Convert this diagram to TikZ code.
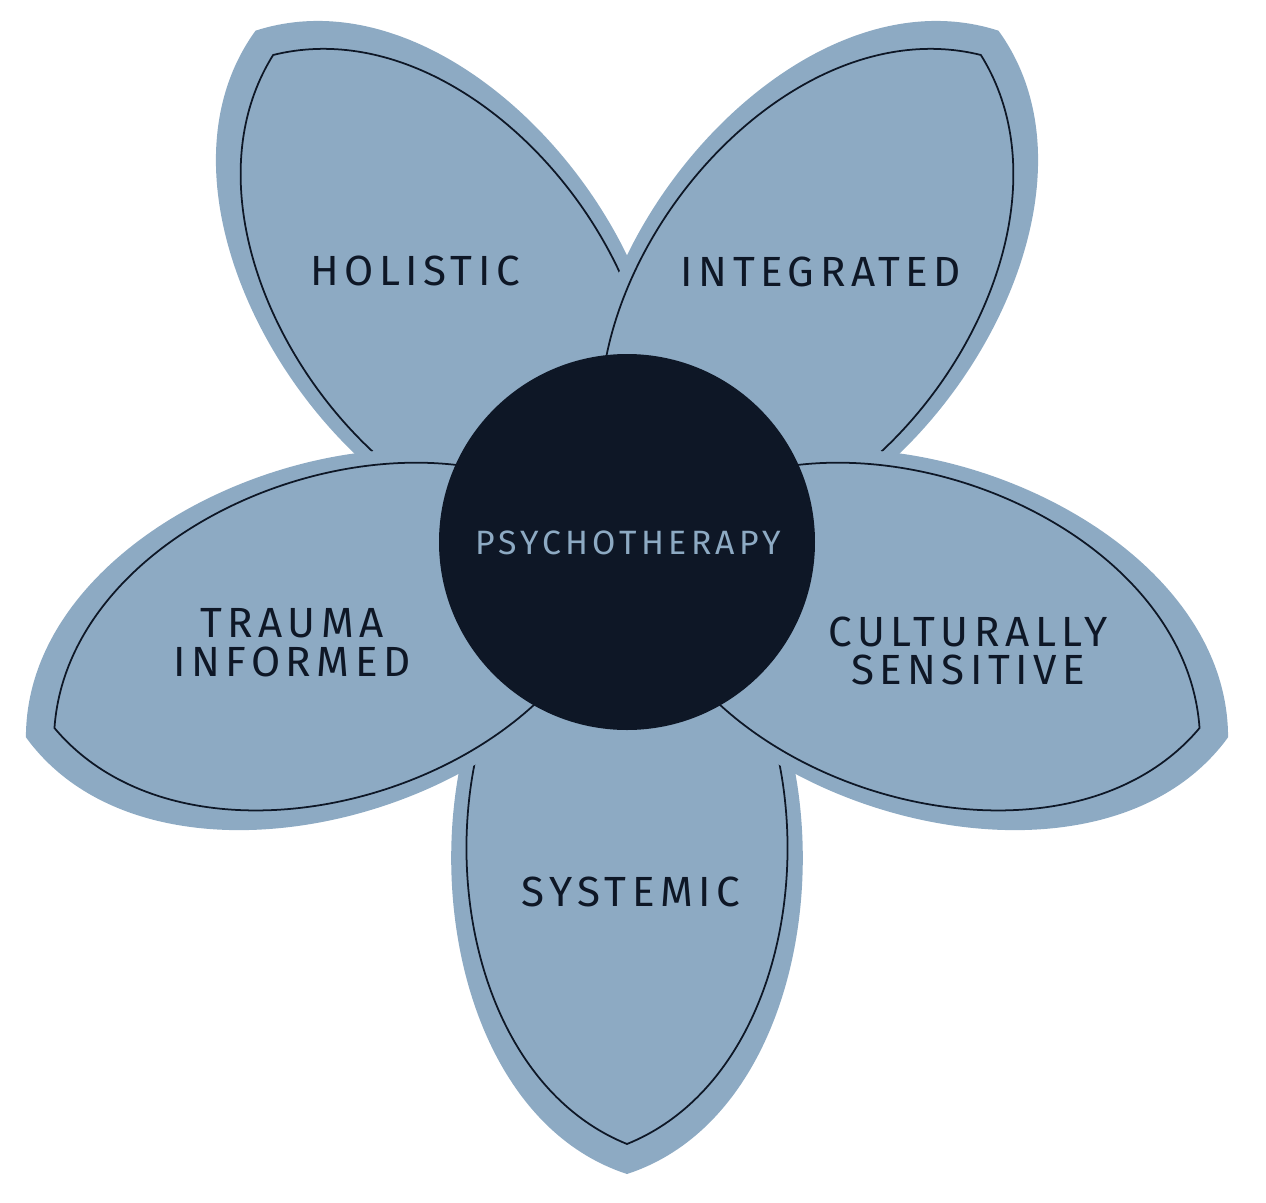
\documentclass[tikz,border=0pt]{standalone}
\usepackage{fontspec}
\newfontfamily\lblfont[LetterSpace=13]{Fira Sans}
\definecolor{petalblue}{HTML}{8DAAC3}
\definecolor{inkdark}{HTML}{0E1726}
\tikzset{
  petalfill/.style={fill=petalblue},
  petalline/.style={draw=inkdark,line width=0.5pt},
  label/.style={font=\lblfont\fontsize{12}{14}\selectfont,text=inkdark,align=center},
}
\begin{document}
\begin{tikzpicture}
  \useasboundingbox (0,0) rectangle (12.66,-12.03);

  \begin{scope}[shift={(6.27,-5.42)}]
    % petals, back to front
    \foreach \ang in {-90,126,54,-18,198} {
      \begin{scope}[rotate=\ang]
        \path[petalfill] (0,0) to[bend left=72] (6.32,0) to[bend left=72] (0,0);
        \draw[petalline] (0.1,0) to[bend left=68] (6.02,0) to[bend left=68] (0.1,0);
      \end{scope}
    }
    \node[circle,fill=inkdark,minimum size=3.76cm] (core) at (0,0) {};
  \end{scope}

  \node[label,text=petalblue,font=\lblfont\fontsize{9.6}{12}\selectfont] (psy) at (6.28,-5.43) {PSYCHOTHERAPY};
  \node[label] (holistic)   at (4.15,-2.71) {HOLISTIC};
  \node[label] (integrated) at (8.21,-2.72) {INTEGRATED};
  \node[label] (trauma)     at (2.92,-6.43) {TRAUMA\\[-3pt]INFORMED};
  \node[label] (cultural)   at (9.68,-6.51) {CULTURALLY\\[-3pt]SENSITIVE};
  \node[label] (systemic)   at (6.31,-8.92) {SYSTEMIC};

\end{tikzpicture}
\end{document}
